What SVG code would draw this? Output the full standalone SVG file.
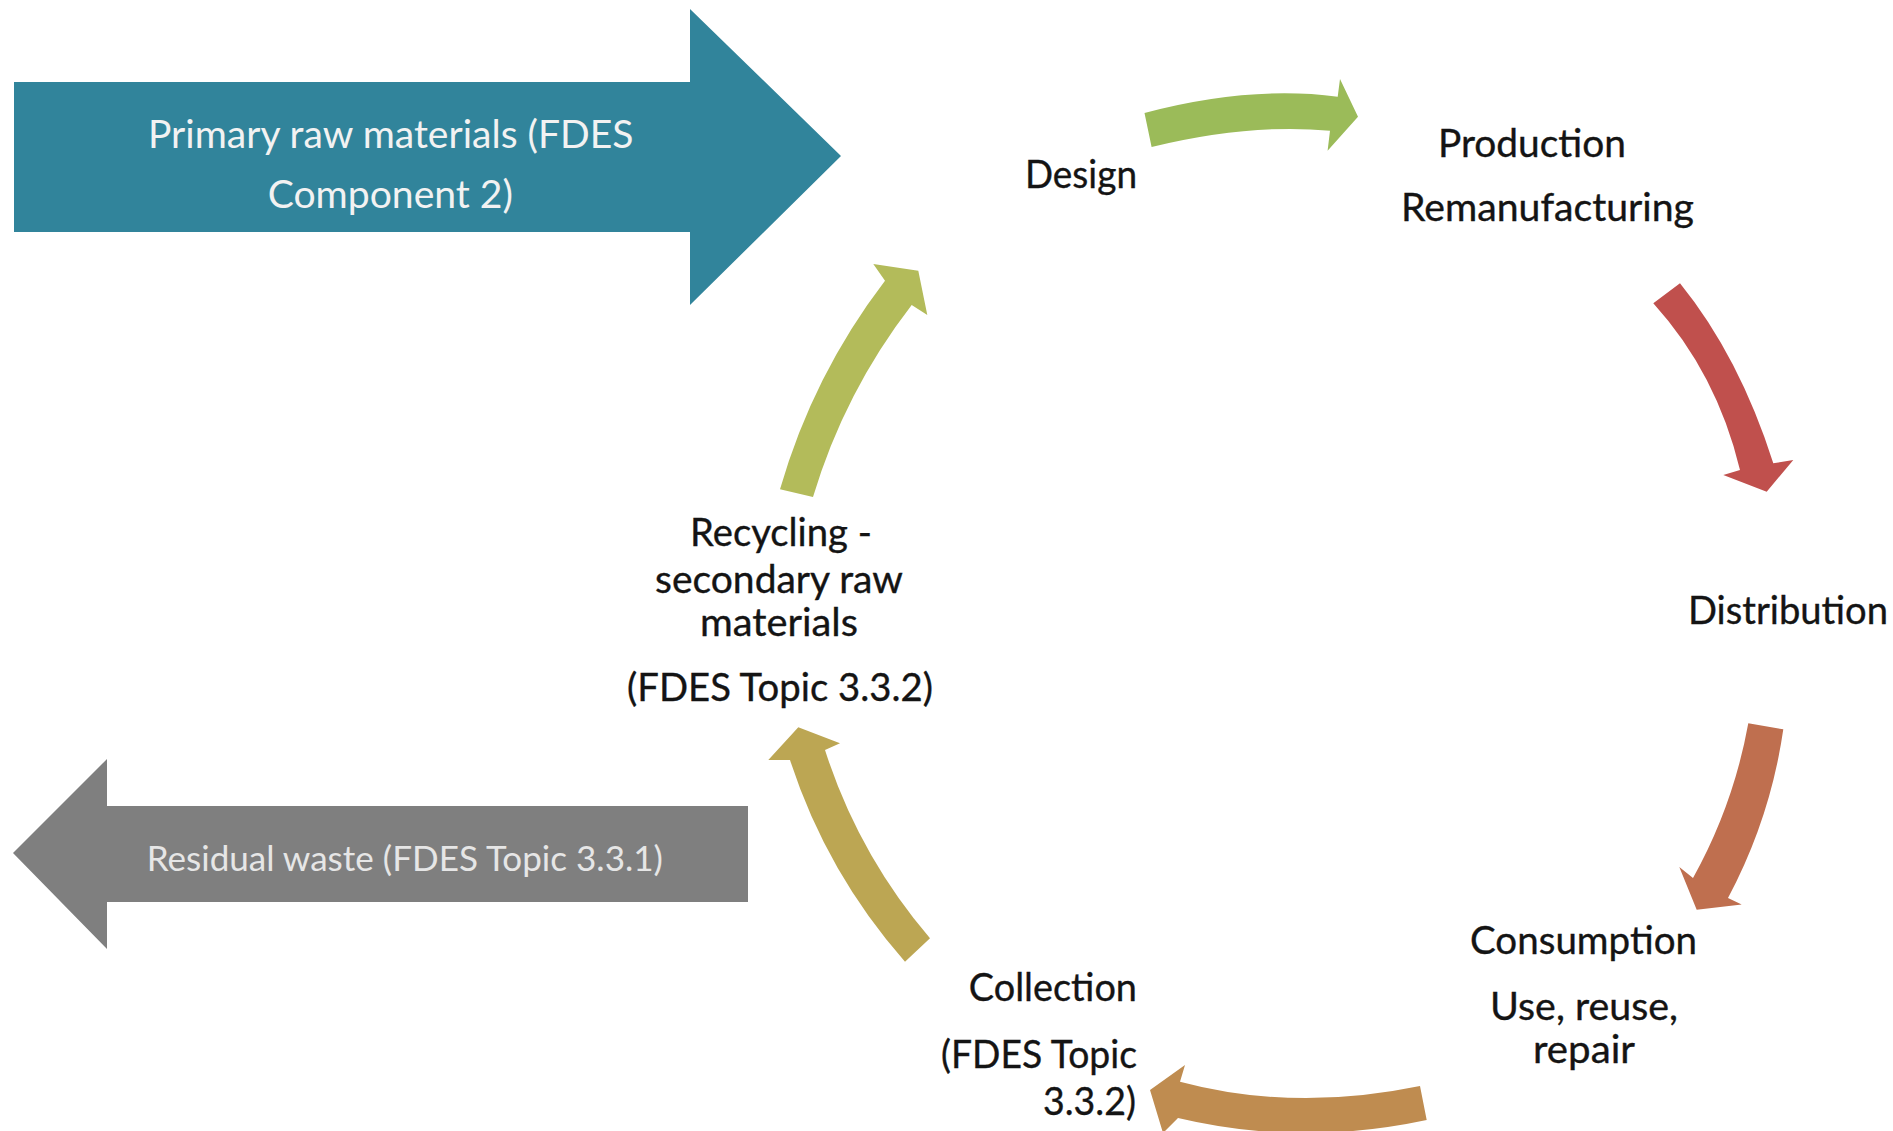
<svg xmlns="http://www.w3.org/2000/svg" width="1893" height="1131" viewBox="0 0 1893 1131">
<style>
  .lbl { font-family: Lato, "Open Sans", "Liberation Sans", sans-serif; font-size: 38px; fill: #141414; stroke: #141414; stroke-width: 0.35px; }
  .inv { font-family: Lato, "Open Sans", "Liberation Sans", sans-serif; font-size: 38px; fill: #f2f2f2; }
  .inv2 { font-family: Lato, "Open Sans", "Liberation Sans", sans-serif; font-size: 34px; fill: #e6e6e6; }
</style>
<rect width="1893" height="1131" fill="#ffffff"/>

<g id="node-primary">
  <polygon points="14,82 690,82 690,9 841,156 690,305 690,232 14,232" fill="#31849b"/>
  <text class="inv" x="148" y="147.5" textLength="485.5" lengthAdjust="spacingAndGlyphs">Primary raw materials (FDES</text>
  <text class="inv" x="267.7" y="207.5" textLength="245.3" lengthAdjust="spacingAndGlyphs">Component 2)</text>
</g>

<g id="node-residual">
  <polygon points="748,806 107,806 107,759 13,853 107,949 107,902 748,902" fill="#7f7f7f"/>
  <text class="inv2" x="146.7" y="870.7" textLength="516.3" lengthAdjust="spacingAndGlyphs">Residual waste (FDES Topic 3.3.1)</text>
</g>

<g id="node-design">
  <text class="lbl" x="1025" y="188" textLength="112" lengthAdjust="spacingAndGlyphs">Design</text>
</g>

<g id="node-production">
  <text class="lbl" x="1438" y="157" textLength="188" lengthAdjust="spacingAndGlyphs">Production</text>
  <text class="lbl" x="1401" y="220.5" textLength="293" lengthAdjust="spacingAndGlyphs">Remanufacturing</text>
</g>

<g id="node-distribution">
  <text class="lbl" x="1688" y="624" textLength="200" lengthAdjust="spacingAndGlyphs">Distribution</text>
</g>

<g id="node-consumption">
  <text class="lbl" x="1470" y="954" textLength="227" lengthAdjust="spacingAndGlyphs">Consumption</text>
  <text class="lbl" x="1490" y="1019.5" textLength="188" lengthAdjust="spacingAndGlyphs">Use, reuse,</text>
  <text class="lbl" x="1533" y="1063" textLength="102" lengthAdjust="spacingAndGlyphs">repair</text>
</g>

<g id="node-collection">
  <text class="lbl" x="968.8" y="1001" textLength="168.2" lengthAdjust="spacingAndGlyphs">Collection</text>
  <text class="lbl" x="941" y="1068" textLength="196" lengthAdjust="spacingAndGlyphs">(FDES Topic</text>
  <text class="lbl" x="1043" y="1115" textLength="93" lengthAdjust="spacingAndGlyphs">3.3.2)</text>
</g>

<g id="node-recycling">
  <text class="lbl" x="690" y="545.5" textLength="182" lengthAdjust="spacingAndGlyphs">Recycling -</text>
  <text class="lbl" x="655" y="592.5" textLength="248" lengthAdjust="spacingAndGlyphs">secondary raw</text>
  <text class="lbl" x="700" y="636" textLength="158" lengthAdjust="spacingAndGlyphs">materials</text>
  <text class="lbl" x="627" y="700.5" textLength="306" lengthAdjust="spacingAndGlyphs">(FDES Topic 3.3.2)</text>
</g>

<g id="connectors">
  <!-- Design -> Production -->
  <path d="M1144.5,113 Q1248.9,85.2 1337.7,96.7 L1340,79 L1358,116.7 L1327.6,150.7 L1330,130.7 Q1249.2,123.2 1151.6,147 Z" fill="#9bbb59"/>
  <!-- Production -> Distribution -->
  <path d="M1680,283.3 Q1739.4,356.7 1773.3,463.3 L1793.3,460 L1766.7,491.7 L1723.3,475 L1740,470 Q1716.8,373.4 1653.3,303.3 Z" fill="#c0504d"/>
  <!-- Distribution -> Consumption -->
  <path d="M1783.3,729.3 Q1770.4,818.4 1728,898 L1741.7,904.4 L1696.7,909.7 L1679.3,867 L1693,878 Q1733.4,805.4 1748.3,723.3 Z" fill="#bf6f4f"/>
  <!-- Consumption -> Collection -->
  <path d="M1420,1086 Q1294,1112.2 1180,1081.7 L1185,1065 L1150,1090 L1163,1133 L1178,1118 Q1300,1147 1426.7,1120 Z" fill="#bf8c50"/>
  <!-- Collection -> Recycling -->
  <path d="M930,938.3 Q858.5,854.6 825,750 L840,743.3 L798.3,727.3 L768.3,760 L790,760 Q826.5,872.6 905,961.7 Z" fill="#bca653"/>
  <!-- Recycling -> Design -->
  <path d="M813,497 Q844.6,391.8 911.7,305 L927.3,315 L918.3,270.7 L873.3,264 L885,280.7 Q812.9,375 780,489.3 Z" fill="#b3bb5a"/>
</g>
</svg>
